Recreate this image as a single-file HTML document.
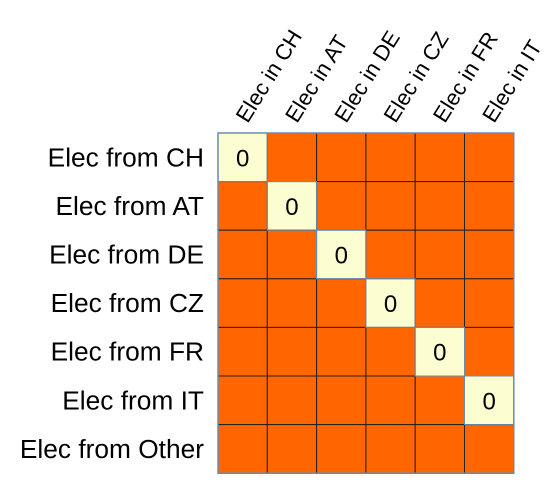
<!DOCTYPE html>
<html><head><meta charset="utf-8"><style>
html,body{margin:0;padding:0;background:#fff;width:553px;height:490px;overflow:hidden}
svg text{font-family:"Liberation Sans",sans-serif;fill:#000}
</style></head><body>
<svg id="chart" width="553" height="490" xmlns="http://www.w3.org/2000/svg"></svg>
<script>
const cols = ["Elec in CH","Elec in AT","Elec in DE","Elec in CZ","Elec in FR","Elec in IT"];
const rows = ["Elec from CH","Elec from AT","Elec from DE","Elec from CZ","Elec from FR","Elec from IT","Elec from Other"];
const values = [
 [0,1,1,1,1,1],
 [1,0,1,1,1,1],
 [1,1,0,1,1,1],
 [1,1,1,0,1,1],
 [1,1,1,1,0,1],
 [1,1,1,1,1,0],
 [1,1,1,1,1,1]
];
const labelsShown = [
 ["0","","","","",""],["","0","","","",""],["","","0","","",""],
 ["","","","0","",""],["","","","","0",""],["","","","","","0"],["","","","","",""]
];
const svg=document.getElementById('chart');
const NS='http://www.w3.org/2000/svg';
const x0=218,y0=133,cw=49.3,ch=48.6;
const xPos=i=>x0+i*cw, yPos=j=>y0+j*ch;
function mk(t,a){const e=document.createElementNS(NS,t);for(const k in a)e.setAttribute(k,a[k]);svg.appendChild(e);return e;}
for(let r=0;r<rows.length;r++){
 for(let c=0;c<cols.length;c++){
  const v=values[r][c];
  const rect=mk('rect',{x:xPos(c),y:yPos(r),width:cw,height:ch,fill:v===0?'#fdfdd2':'#ff6600',stroke:v===0?'#6b8cae':'#222','stroke-width':1});
  
  
  if(labelsShown[r][c]!==''){
   const t=mk('text',{x:xPos(c)+cw/2,y:yPos(r)+ch/2+9,'text-anchor':'middle','font-size':24});
   t.textContent=labelsShown[r][c];
   
   
  }
 }
}
for(let r=0;r<rows.length;r++)for(let c=0;c<cols.length;c++){if(values[r][c]===0){
 const rr=mk('rect',{x:xPos(c),y:yPos(r),width:cw,height:ch,fill:'none',stroke:'#6b8cae','stroke-width':1});
 
 
}}
const outer=mk('rect',{x:x0,y:y0,width:cw*cols.length,height:ch*rows.length,fill:'none',stroke:'#6b8cae','stroke-width':1.5});


rows.forEach((s,r)=>{const t=mk('text',{x:204,y:yPos(r)+ch/2+9,'text-anchor':'end','font-size':26.3});t.textContent=s;
 
 });
cols.forEach((s,c)=>{const x=xPos(c)+cw/2+5,y=124;const t=mk('text',{x:x,y:y,'font-size':22,transform:'rotate(-58 '+x+' '+y+')'});t.textContent=s;
 
 });
</script>
</body></html>
